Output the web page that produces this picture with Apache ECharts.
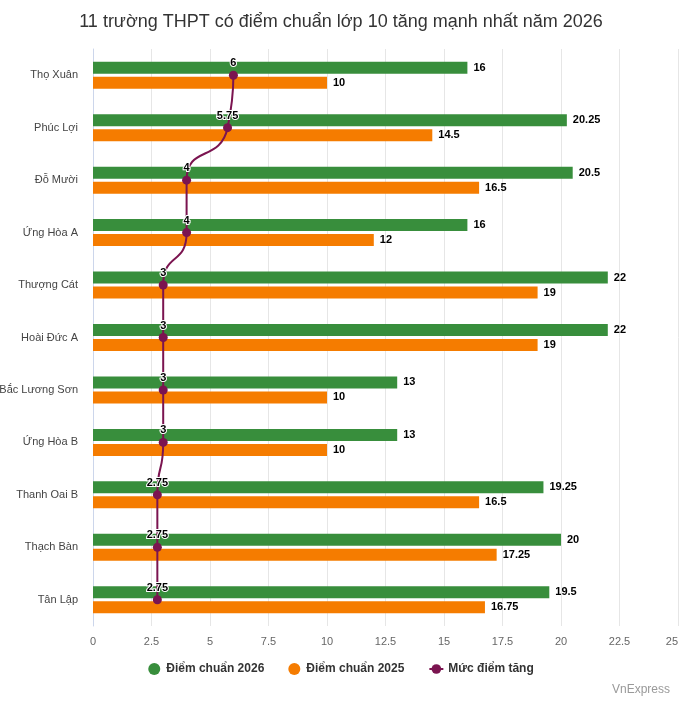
<!DOCTYPE html>
<html>
<head>
<meta charset="utf-8">
<script src="https://cdn.jsdelivr.net/npm/echarts@6/dist/echarts.min.js"></script>
<style>
  html, body { margin: 0; padding: 0; background: #fff; }
  #chart { width: 682px; height: 702px; }
</style>
</head>
<body>
<div id="chart"></div>
<script>
// du lieu
var schools = ['Thọ Xuân', 'Phúc Lợi', 'Đỗ Mười', 'Ứng Hòa A', 'Thượng Cát', 'Hoài Đức A',
    'Bắc Lương Sơn', 'Ứng Hòa B', 'Thanh Oai B', 'Thạch Bàn', 'Tân Lập'];
var score2026 = [16, 20.25, 20.5, 16, 22, 22, 13, 13, 19.25, 20, 19.5];
var score2025 = [10, 14.5, 16.5, 12, 19, 19, 10, 10, 16.5, 17.25, 16.75];
var increase = [6, 5.75, 4, 4, 3, 3, 3, 3, 2.75, 2.75, 2.75];

var myChart = echarts.init(document.getElementById('chart'));

var barLabel = {
    show: true,
    position: 'right',
    distance: 6,
    color: '#000',
    fontSize: 11,
    fontWeight: 'bold'
};

var option = {
    animation: false,
    textStyle: { fontFamily: 'Liberation Sans, Arial, sans-serif' },
    title: {
        text: '11 trường THPT có điểm chuẩn lớp 10 tăng mạnh nhất năm 2026',
        left: 'center',
        top: 8,
        textStyle: { fontSize: 18, fontWeight: 'normal', color: '#333' }
    },
    legend: {
        bottom: 22,
        left: 'center',
        itemGap: 24,
        itemWidth: 14,
        itemHeight: 12,
        textStyle: { color: '#333', fontSize: 12, fontWeight: 'bold' },
        data: [
            { name: 'Điểm chuẩn 2026', icon: 'circle' },
            { name: 'Điểm chuẩn 2025', icon: 'circle' },
            { name: 'Mức điểm tăng' }
        ]
    },
    graphic: [{
        type: 'text',
        right: 12,
        bottom: 6,
        style: { text: 'VnExpress', fill: '#999', fontSize: 12, fontFamily: 'Liberation Sans, Arial, sans-serif' }
    }],
    grid: { left: 93, right: 4, top: 49, bottom: 76, outerBoundsMode: 'none', containLabel: false },
    xAxis: {
        type: 'value',
        min: 0,
        max: 25,
        interval: 2.5,
        axisLine: { show: false },
        axisTick: { show: false },
        axisLabel: { color: '#666', fontSize: 11, margin: 10, alignMaxLabel: 'right' },
        splitLine: { lineStyle: { color: '#e6e6e6' } }
    },
    yAxis: {
        type: 'category',
        data: schools,
        inverse: true,
        axisLine: { show: true, lineStyle: { color: '#ccd6eb' } },
        axisTick: { show: false },
        axisLabel: { color: '#444', fontSize: 11, margin: 15 }
    },
    series: [
        {
            name: 'Điểm chuẩn 2026',
            type: 'bar',
            data: score2026,
            barWidth: 12,
            barGap: '25%',
            itemStyle: { color: '#388e3c' },
            label: barLabel
        },
        {
            name: 'Điểm chuẩn 2025',
            type: 'bar',
            data: score2025,
            barWidth: 12,
            itemStyle: { color: '#f57c00' },
            label: barLabel
        },
        {
            name: 'Mức điểm tăng',
            type: 'line',
            data: increase,
            smooth: 0.6,
            symbol: 'circle',
            symbolSize: 9,
            z: 5,
            lineStyle: { color: '#7b1450', width: 2 },
            itemStyle: { color: '#7b1450' },
            label: {
                show: true,
                position: 'top',
                distance: 2,
                color: '#000',
                fontSize: 11,
                fontWeight: 'bold',
                textBorderColor: '#fff',
                textBorderWidth: 2
            }
        }
    ]
};
myChart.setOption(option);
</script>
</body>
</html>
